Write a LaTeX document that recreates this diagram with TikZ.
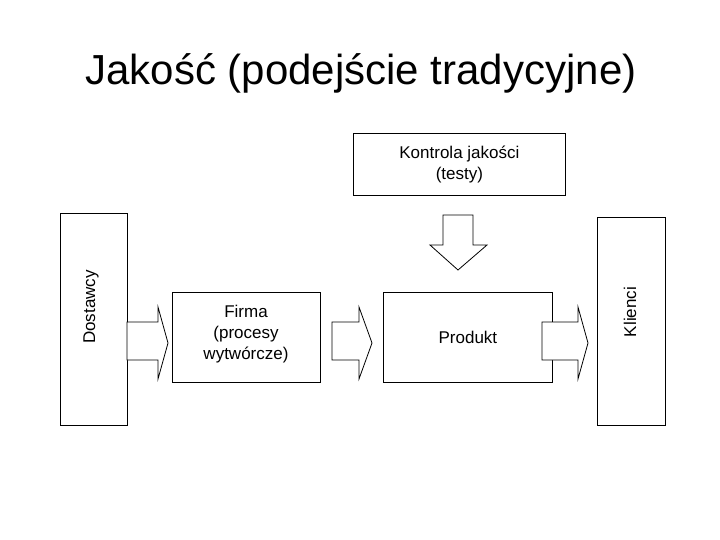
\documentclass[tikz,border=0pt]{standalone}
\usepackage{fontspec}
\setmainfont{Liberation Sans}
\begin{document}
\begin{tikzpicture}[x=1pt,y=-1pt,
  box/.style={draw,line width=0.8pt,anchor=north west,inner sep=0pt},
  blk/.style={draw,line width=0.8pt,fill=white},
  lbl/.style={font=\fontsize{17}{21}\selectfont,align=center}]
\useasboundingbox (0,0) rectangle (720,540);
\node[font=\fontsize{42}{48}\selectfont] (title) at (361,73) {Jakość (podejście tradycyjne)};
\node[box,minimum width=212pt,minimum height=62pt] (kj) at (353,133) {};
\node[lbl] (kjt) at (kj.center) {Kontrola jakości\\(testy)};
\node[box,minimum width=67pt,minimum height=212pt] (dost) at (60,213) {};
\node[lbl,rotate=90] (dostt) at (91,307) {Dostawcy};
\node[box,minimum width=68pt,minimum height=208pt] (kl) at (597,217) {};
\node[lbl,rotate=90] (klt) at (630,312) {Klienci};
\node[box,minimum width=148pt,minimum height=90pt] (firma) at (172,292) {};
\node[lbl] (firmat) at (246,334) {Firma\\(procesy\\wytwórcze)};
\node[box,minimum width=169pt,minimum height=90pt] (prod) at (383,292) {};
\node[lbl] (prodt) at (prod.center) {Produkt};
% down arrow
\draw[blk] (443,215) -- (473,215) -- (473,245) -- (487,245) -- (458,270) -- (430,245) -- (443,245) -- cycle;
% right arrows
\draw[blk] (127,322) -- (158,322) -- (158,307) -- (168,343) -- (158,379) -- (158,360) -- (127,360) -- cycle;
\draw[blk] (332,322) -- (359,322) -- (359,307) -- (372,343) -- (359,379) -- (359,360) -- (332,360) -- cycle;
\draw[blk] (542,322) -- (578,322) -- (578,307) -- (588,343) -- (578,379) -- (578,360) -- (542,360) -- cycle;
\end{tikzpicture}
\end{document}
